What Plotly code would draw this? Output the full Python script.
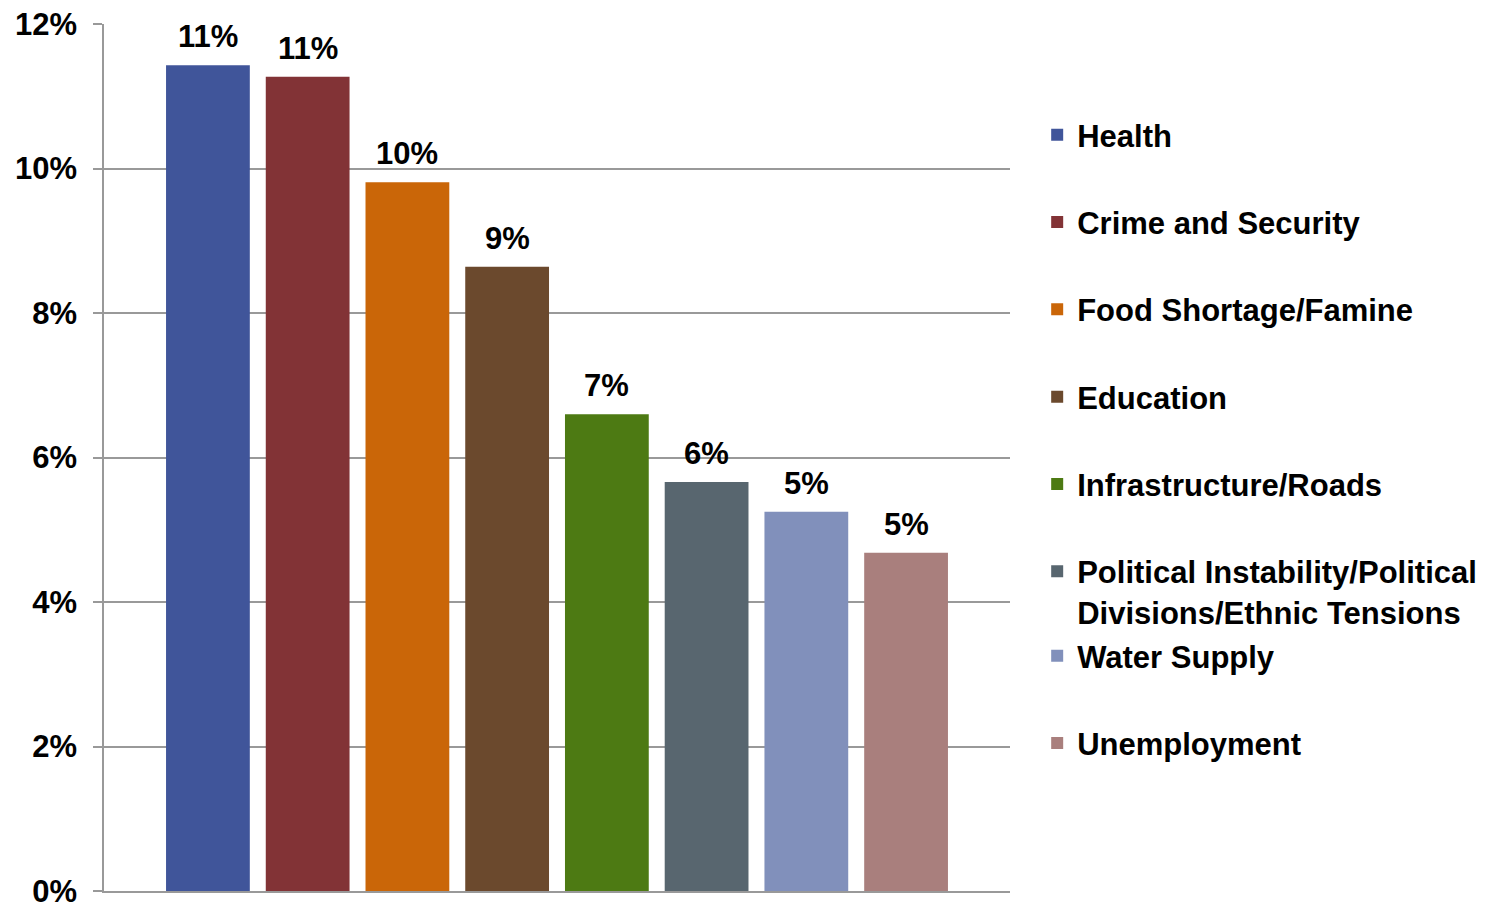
import plotly.graph_objects as go

categories = ["Health", "Crime and Security", "Food Shortage/Famine", "Education",
              "Infrastructure/Roads",
              "Political Instability/Political<br>Divisions/Ethnic Tensions",
              "Water Supply", "Unemployment"]
values = [0.1143, 0.1127, 0.0981, 0.0864, 0.0660, 0.0566, 0.0525, 0.0468]
colors = ["#40559A", "#823336", "#CA6608", "#6B492D", "#4D7A13", "#58666F", "#8190BB", "#A97F7D"]
tick_vals = [0, 0.02, 0.04, 0.06, 0.08, 0.10, 0.12]

FONT = "Liberation Sans, Arial, sans-serif"
GRID = "#999999"
FS = 31

fig = go.Figure()
for i, (cat, val, col) in enumerate(zip(categories, values, colors)):
    fig.add_trace(go.Bar(
        x=[cat], y=[val], name=cat, legendgroup=str(i),
        legend="legend" if i < 6 else "legend2",
        marker=dict(color=col, line=dict(width=0)),
        width=0.84,
    ))
    fig.add_annotation(x=cat, y=val, text=f"{val:.0%}", showarrow=False,
                       yanchor="bottom", yshift=9,
                       font=dict(family=FONT, size=FS, color="black", weight="bold"))

legend_style = dict(xanchor="left", yanchor="top", valign="top",
                    font=dict(family=FONT, size=FS, color="black", weight="bold"),
                    tracegroupgap=44, bgcolor="rgba(0,0,0,0)")

fig.update_layout(
    width=1493, height=904,
    margin=dict(l=104, r=483, t=24, b=13, autoexpand=False),
    paper_bgcolor="white", plot_bgcolor="white",
    barmode="overlay",
    font=dict(family=FONT, size=FS, color="black", weight="bold"),
    showlegend=True,
    legend=dict(x=1.030, y=0.903, **legend_style),
    legend2=dict(x=1.030, y=0.302, **legend_style),
    xaxis=dict(type="category", categoryorder="array", categoryarray=categories,
               range=[-1.042, 8.042], showticklabels=False, showgrid=False,
               zeroline=False, showline=True, linecolor=GRID, linewidth=1.5,
               ticks="", automargin=False),
    yaxis=dict(range=[0, 0.12], tickvals=tick_vals, tickformat=".0%",
               showgrid=True, gridcolor=GRID, gridwidth=1.5,
               showline=True, linecolor=GRID, linewidth=1.5,
               ticks="outside", ticklen=9, tickcolor=GRID, tickwidth=1.5,
               ticklabelstandoff=10, ticklabeloverflow="allow",
               zeroline=False, automargin=False,
               tickfont=dict(family=FONT, size=FS, color="black", weight="bold")),
)

fig.write_html("out.html", config={"displayModeBar": False})
with open("out.html", encoding="utf-8") as f:
    html = f.read()
html = html.replace("<body>", '<body style="margin:0;padding:0;">', 1)
with open("out.html", "w", encoding="utf-8") as f:
    f.write(html)
